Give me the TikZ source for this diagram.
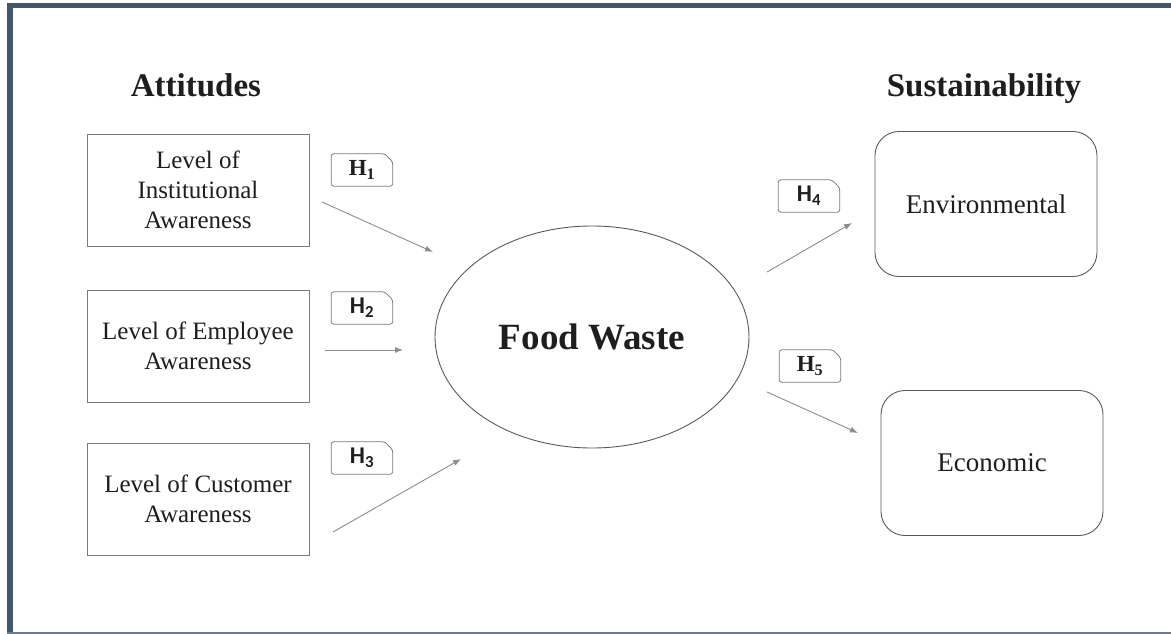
\documentclass[tikz,border=0pt]{standalone}
\usepackage{fontspec}
\setmainfont{Liberation Serif}
\newfontfamily\hsans{Carlito}
\usetikzlibrary{calc,shapes.geometric,arrows.meta}
\definecolor{slate}{HTML}{44546A}
\definecolor{slatelight}{HTML}{6A7890}
\definecolor{boxgray}{HTML}{7A7A7A}
\definecolor{arrowgray}{HTML}{8C8C8C}
\definecolor{ink}{HTML}{1E1E1E}

\begin{document}
\begin{tikzpicture}[x=1pt,y=-1pt,
  attbox/.style={draw=boxgray,line width=0.9pt,minimum width=222pt,minimum height=112pt,
    inner sep=0pt,align=center,text=ink,font=\fontsize{25}{30}\selectfont},
  susbox/.style={draw=black!65,line width=0.9pt,rounded corners=24pt,minimum width=222pt,
    minimum height=145pt,inner sep=0pt,text=ink,font=\fontsize{27}{32}\selectfont},
  heading/.style={text=ink,anchor=base,font=\bfseries\fontsize{33}{36}\selectfont},
  hnode/.style={minimum width=61pt,minimum height=32pt,inner sep=0pt,text=ink},
  serifh/.style={font=\bfseries\fontsize{23}{26}\selectfont},
  sansh/.style={font=\hsans\bfseries\fontsize{24}{26}\selectfont},
  hedge/.style={draw=boxgray,line width=0.8pt,rounded corners=2.5pt},
  link/.style={draw=arrowgray,line width=0.9pt,-{Latex[length=8pt,width=6pt]}}
]
\useasboundingbox (0,0) rectangle (1171,634);

% page frame
\fill[slate] (7,3) rectangle (1171,8);
\fill[slate] (7,3) rectangle (13,634);
\fill[slatelight] (7,631.5) rectangle (1171,634);

% column headings
\node[heading] (att) at (196,97) {Attitudes};
\node[heading] (sus) at (984,97) {Sustainability};

% awareness boxes
\node[attbox] (inst) at (198,190) {Level of\\Institutional\\Awareness};
\node[attbox] (emp)  at (198,346) {Level of Employee\\Awareness};
\node[attbox] (cust) at (198,499) {Level of Customer\\Awareness};

% central construct
\node[draw=black!65,line width=0.9pt,ellipse,minimum width=314pt,minimum height=222pt,
  inner sep=0pt,text=ink,font=\bfseries\fontsize{37}{40}\selectfont] (fw) at (592,337) {Food Waste};

% sustainability outcomes
\node[susbox] (env) at (986,204) {Environmental};
\node[susbox] (eco) at (992,463) {Economic};

% hypothesis tags
\node[hnode,serifh] (h1) at (362,170) {H\textsubscript{1}};
\node[hnode,sansh]  (h2) at (362,308) {H\textsubscript{2}};
\node[hnode,sansh]  (h3) at (362,458) {H\textsubscript{3}};
\node[hnode,sansh]  (h4) at (809,196) {H\textsubscript{4}};
\node[hnode,serifh] (h5) at (810,366) {H\textsubscript{5}};
\foreach \h in {h1,h2,h3,h4,h5}{
  \draw[hedge] (\h.west) -- (\h.north west) -- ($(\h.north east)+(-8,0)$)
    -- ($(\h.north east)+(0,8)$) -- (\h.south east) -- (\h.south west) -- cycle;
}

% path arrows
\coordinate (a1s) at (322,202); \coordinate (a1e) at (433,252);
\coordinate (a2s) at (325,350); \coordinate (a2e) at (403,350);
\coordinate (a3s) at (333,532); \coordinate (a3e) at (461,459);
\coordinate (a4s) at (767,272); \coordinate (a4e) at (852,223);
\coordinate (a5s) at (767,392); \coordinate (a5e) at (858,433);
\draw[link] (a1s) -- (a1e);
\draw[link] (a2s) -- (a2e);
\draw[link] (a3s) -- (a3e);
\draw[link] (a4s) -- (a4e);
\draw[link] (a5s) -- (a5e);
\end{tikzpicture}
\end{document}
